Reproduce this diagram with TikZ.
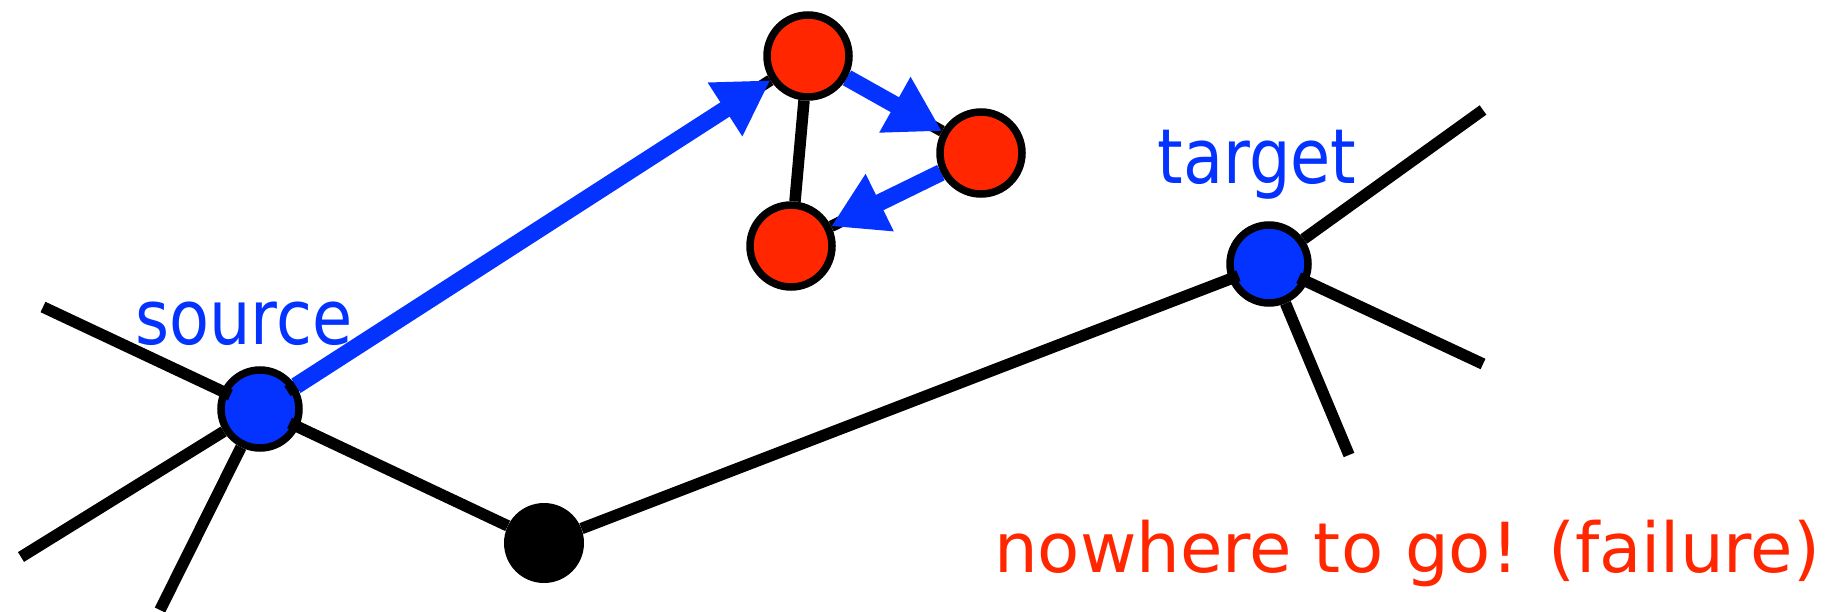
\documentclass[tikz,border=0pt]{standalone}
\usepackage{fontspec}
\setmainfont{DejaVu Sans}
\usetikzlibrary{arrows.meta}
\definecolor{vblue}{RGB}{4,51,255}
\definecolor{vred}{RGB}{255,38,0}
\begin{document}
\begin{tikzpicture}[x=1pt,y=-1pt,
  vtx/.style={circle,draw=black,line width=7.5pt,inner sep=0pt,minimum size=78pt},
  bnode/.style={vtx,fill=vblue},
  rnode/.style={vtx,fill=vred,minimum size=82pt},
  knode/.style={circle,fill=black,inner sep=0pt,minimum size=80pt},
  wire/.style={draw=black,line width=11.5pt},
  pokestart/.style={shorten <=-10pt},
  pokeend/.style={shorten >=-10pt},
  barrow/.style={draw=vblue,line width=17pt,-{Triangle[length=54pt,width=60pt]}},
  lbl/.style={text=vblue,font=\fontsize{76}{80}\selectfont,inner sep=0pt,anchor=base},
  fail/.style={text=vred,font=\fontsize{69}{74}\selectfont,inner sep=0pt,anchor=base west}]
\useasboundingbox (0,0) rectangle (1831,612);
% vertices
\node[bnode] (src) at (260,409) {};
\node[bnode] (tgt) at (1269,264) {};
\node[knode] (blk) at (544,543) {};
\node[rnode] (rtop) at (808,56) {};
\node[rnode] (rright) at (981,153) {};
\node[rnode] (rbl) at (791,246) {};
% free ends
\coordinate (c1) at (43,307);
\coordinate (c2) at (21,557);
\coordinate (c3) at (160,610);
\coordinate (c4) at (1483,110);
\coordinate (c5) at (1483,364);
\coordinate (c6) at (1349,455);
% black edges
\draw[wire,pokestart] (src) -- (c1);
\draw[wire] (src) -- (c2);
\draw[wire] (src) -- (c3);
\draw[wire,pokestart] (src) -- (blk);
\draw[wire,pokeend] (blk) -- (tgt);
\draw[wire] (tgt) -- (c4);
\draw[wire,pokestart] (tgt) -- (c5);
\draw[wire] (tgt) -- (c6);
\draw[wire,pokestart] (src) -- (rtop);
\draw[wire] (rtop) -- (rright);
\draw[wire] (rright) -- (rbl);
\draw[wire] (rtop) -- (rbl);
% blue path
\draw[barrow] (src) -- (rtop);
\draw[barrow] (rtop) -- (rright);
\draw[barrow] (rright) -- (rbl);
% labels
\node[lbl] (lsrc) at (244,344) {\scalebox{0.86}[1]{source}};
\node[lbl] (ltgt) at (1257,184) {\scalebox{0.86}[1]{target}};
\node[fail] (lfail) at (994,572) {nowhere to go! (failure)};
\end{tikzpicture}
\end{document}
